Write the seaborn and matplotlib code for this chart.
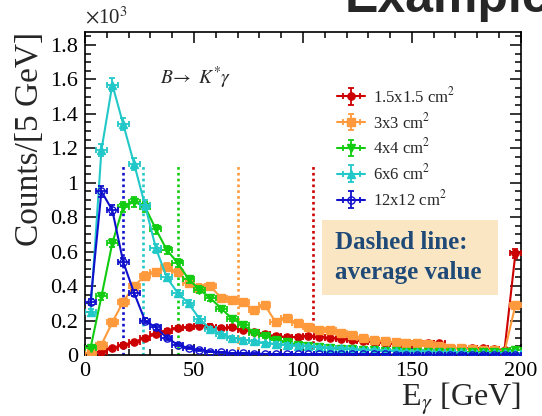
import numpy as np
import pandas as pd
import matplotlib
matplotlib.use("Agg")
import matplotlib.pyplot as plt
import seaborn as sns
from matplotlib.ticker import MultipleLocator, FuncFormatter
from matplotlib.patches import Rectangle

# ---------------- data (counts per 5 GeV bin, in units of 10^3) ----------------
bin_centers = np.arange(2.5, 200, 5.0)

red_15 = [0.01, 0.02, 0.04, 0.06, 0.075, 0.10, 0.12, 0.14, 0.155, 0.16,
          0.17, 0.165, 0.155, 0.16, 0.145, 0.135, 0.12, 0.11, 0.105, 0.105,
          0.11, 0.105, 0.10, 0.095, 0.09, 0.08, 0.075, 0.07, 0.065, 0.06,
          0.07, 0.07, 0.07, 0.04, 0.04, 0.04, 0.04, 0.035, 0.03, 0.59]
orange_3 = [0.01, 0.06, 0.19, 0.31, 0.40, 0.46, 0.48, 0.51, 0.48, 0.42,
            0.39, 0.40, 0.33, 0.32, 0.31, 0.26, 0.29, 0.19, 0.215, 0.185,
            0.16, 0.145, 0.145, 0.125, 0.115, 0.10, 0.09, 0.08, 0.075, 0.07,
            0.07, 0.065, 0.05, 0.04, 0.04, 0.035, 0.03, 0.03, 0.02, 0.29]
green_4 = [0.04, 0.34, 0.65, 0.86, 0.89, 0.86, 0.73, 0.61, 0.535, 0.44,
           0.38, 0.33, 0.27, 0.21, 0.175, 0.13, 0.11, 0.09, 0.075, 0.06,
           0.05, 0.045, 0.04, 0.035, 0.035, 0.03, 0.03, 0.025, 0.025, 0.02,
           0.02, 0.02, 0.02, 0.015, 0.015, 0.015, 0.015, 0.015, 0.015, 0.03]
cyan_6 = [0.25, 1.19, 1.57, 1.34, 1.11, 0.87, 0.62, 0.45, 0.36, 0.30,
          0.21, 0.15, 0.12, 0.10, 0.09, 0.08, 0.07, 0.065, 0.06, 0.055,
          0.05, 0.045, 0.04, 0.04, 0.035, 0.03, 0.03, 0.025, 0.025, 0.02,
          0.02, 0.02, 0.015, 0.015, 0.015, 0.01, 0.01, 0.01, 0.01, 0.01]
blue_12 = [0.31, 0.95, 0.84, 0.54, 0.36, 0.20, 0.16, 0.10, 0.06, 0.04,
           0.03, 0.02, 0.015, 0.01, 0.01, 0.008, 0.006, 0.005, 0.005, 0.004,
           0.004, 0.003, 0.003, 0.003, 0.003, 0.003, 0.003, 0.003, 0.002, 0.002,
           0.002, 0.002, 0.002, 0.002, 0.002, 0.002, 0.002, 0.002, 0.002, 0.002]

labels = ["1.5x1.5 cm$^2$", "3x3 cm$^2$", "4x4 cm$^2$", "6x6 cm$^2$", "12x12 cm$^2$"]
series = [red_15, orange_3, green_4, cyan_6, blue_12]
colors = ["#cc0000", "#ff9a3c", "#11cc11", "#22c8c8", "#1010cc"]
markers = ["o", "s", "v", "^", "o"]
mean_energy = [104.4, 70.3, 42.5, 26.8, 17.3]

# ---------------- style ----------------
sns.set_style("ticks")
plt.rcParams["font.family"] = ["Liberation Serif", "DejaVu Serif"]
plt.rcParams["mathtext.fontset"] = "stix"

fig = plt.figure(figsize=(5.42, 4.16), dpi=100)
ax = fig.add_axes([0.157, 0.1466, 0.804, 0.7764])

df = pd.DataFrame({
    "E": np.tile(bin_centers, len(series)),
    "counts": np.concatenate([np.asarray(s) for s in series]),
    "size": np.repeat(labels, len(bin_centers)),
})

handles = {}
draw_order = [3, 2, 4, 1, 0]
for i in draw_order:
    sub = df[df["size"] == labels[i]]
    mfc = "none" if i == 4 else colors[i]
    sns.lineplot(data=sub, x="E", y="counts", color=colors[i], marker=markers[i],
                 markersize=5.2, markerfacecolor=mfc, markeredgecolor=colors[i],
                 markeredgewidth=1.0, linewidth=1.5, ax=ax, legend=False, zorder=3 + i)
    line = ax.lines[-1]
    y = sub["counts"].to_numpy()
    yerr = np.sqrt(y * 1000.0) / 1000.0
    eb = ax.errorbar(sub["E"], y, xerr=2.5, yerr=yerr, fmt="none", ecolor=colors[i],
                     elinewidth=1.3, capsize=2.0, capthick=1.3, zorder=3 + i)
    handles[i] = (line, eb)

# average value lines
for m, c in zip(mean_energy, colors):
    ax.plot([m, m], [0, 1.1], color=c, linestyle=(0, (1, 1.2)), linewidth=1.9, zorder=2)

ax.set_xlim(0, 200)
ax.set_ylim(0, 1.875)
ax.xaxis.set_major_locator(MultipleLocator(50))
ax.xaxis.set_minor_locator(MultipleLocator(10))
ax.yaxis.set_major_locator(MultipleLocator(0.2))
ax.yaxis.set_minor_locator(MultipleLocator(0.05))
ax.xaxis.set_major_formatter(FuncFormatter(lambda v, p: "%g" % round(v, 2)))
ax.yaxis.set_major_formatter(FuncFormatter(lambda v, p: "%g" % round(v, 2)))
ax.tick_params(which="both", direction="in", top=True, right=True, width=1.1,
               labelsize=16, color="black", labelcolor="black")
ax.tick_params(which="major", length=8, pad=5)
ax.tick_params(which="minor", length=4)
for lab in ax.get_xticklabels() + ax.get_yticklabels():
    lab.set_family(["Liberation Serif", "DejaVu Serif"])
for s in ax.spines.values():
    s.set_linewidth(1.2)
    s.set_color("black")

ax.set_xlabel(r"E$_{\gamma}$ [GeV]", fontsize=23, loc="right", labelpad=0)
ax.set_ylabel("Counts/[5 GeV]", fontsize=24, loc="top", labelpad=4)

ax.text(0.0, 1.012, r"$\times$10$^{3}$", transform=ax.transAxes, fontsize=15,
        ha="left", va="bottom")

ax.text(34.4, 1.57, r"$B\!\rightarrow\ K^{*}\gamma$", fontsize=14, ha="left",
        va="baseline")

# annotation box
ax.add_patch(Rectangle((108.7, 0.349), 80.7, 0.436, facecolor="#fbe6c4",
                       edgecolor="none", zorder=1))
ax.text(114.5, 0.616, "Dashed line:", fontsize=18, fontweight="bold",
        color="#1f4a78", ha="left", va="baseline", zorder=2)
ax.text(114.5, 0.442, "average value", fontsize=18, fontweight="bold",
        color="#1f4a78", ha="left", va="baseline", zorder=2)

leg = ax.legend([handles[i] for i in range(5)], labels, loc="upper left",
                bbox_to_anchor=(0.622, 0.793), bbox_transform=fig.transFigure,
                frameon=False, fontsize=12, borderaxespad=0, borderpad=0,
                handlelength=1.7, handletextpad=0.45, labelspacing=0.35)

fig.text(345 / 542, 1 - 12 / 416, "Example", fontsize=36, fontweight="bold",
         family="Liberation Sans", ha="left", va="baseline")

fig.savefig("out.png", dpi=100)
